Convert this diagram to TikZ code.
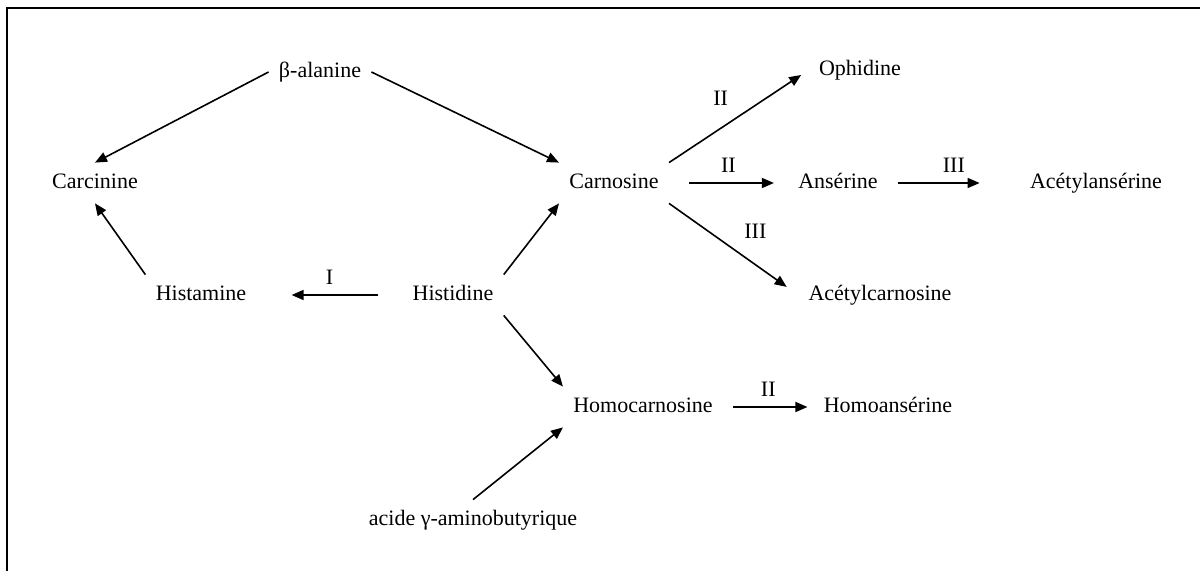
\documentclass[tikz,border=0pt]{standalone}
\usepackage{fontspec}
\setmainfont{Liberation Serif}
\usetikzlibrary{arrows.meta}

\begin{document}
\begin{tikzpicture}[x=0.5pt, y=-0.5pt, >={Triangle[length=6pt, width=5pt]},
    mol/.style={inner sep=5pt, text height=8pt, text depth=2pt,
                font=\fontsize{11}{13}\selectfont},
    rxn/.style={->, line width=0.8pt},
    enz/.style={inner sep=5pt, font=\fontsize{11}{13}\selectfont}]
  \useasboundingbox (0,0) rectangle (1200,571);
  \draw[line width=1pt] (7,571) -- (7,8) -- (1200,8);

  % molecules
  \foreach \n/\x/\y/\txt in {bala/320/72/β-alanine, carc/95/183/Carcinine,
      carn/614/183/Carnosine, ophi/860/70/Ophidine, anse/838/183/Ansérine,
      acan/1096/183/Acétylansérine, hista/201/295/Histamine,
      histi/453/295/Histidine, acca/880/295/Acétylcarnosine,
      homc/643/407/Homocarnosine, homa/888/407/Homoansérine,
      gaba/473/520/acide γ-aminobutyrique}
    \node[mol] (\n) at (\x,\y) {\txt};

  % reactions
  \draw[rxn] (bala.west) -- (carc.north);
  \draw[rxn] (bala.east) -- (carn.north west);
  \draw[rxn] (hista.north west) -- (carc.south);
  \draw[rxn, shorten <=12pt, shorten >=17.5pt] (histi.west) -- (hista.east)
    node[midway, above, enz] {I};
  \draw[rxn] (histi.north east) -- (carn.south west);
  \draw[rxn] (histi.south east) -- (homc.north west);
  \draw[rxn] (gaba.north) -- (homc.south west);
  \draw[rxn, shorten >=4.5pt] (carn.north east) -- (ophi.west)
    node[midway, above left, enz] {II};
  \draw[rxn, shorten <=10pt, shorten >=7pt] (carn.east) -- (anse.west)
    node[midway, above, enz] {II};
  \draw[rxn, shorten <=5pt, shorten >=20pt] (anse.east) -- (acan.west)
    node[midway, above, enz] {III};
  \draw[rxn, shorten >=7pt] (carn.south east) -- (acca.west)
    node[midway, above right, enz] {III};
  \draw[rxn, shorten <=5pt, shorten >=3pt] (homc.east) -- (homa.west)
    node[midway, above, enz] {II};
\end{tikzpicture}
\end{document}
